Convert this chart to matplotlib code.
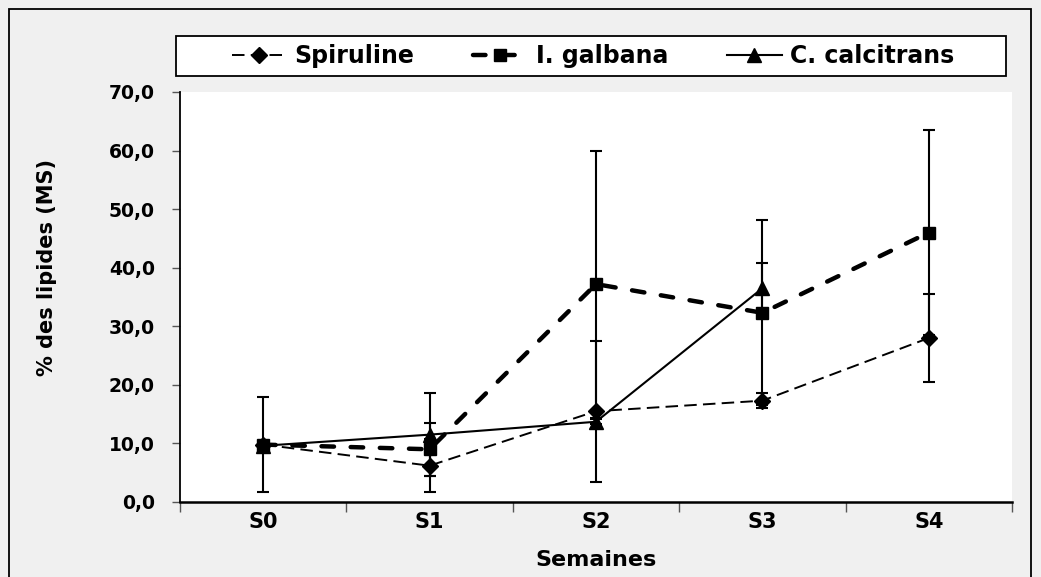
import numpy as np
import matplotlib
matplotlib.use("Agg")
import matplotlib.pyplot as plt
from matplotlib.patches import Rectangle
from matplotlib.lines import Line2D
from matplotlib.ticker import FuncFormatter, FixedLocator

semaines = ["S0", "S1", "S2", "S3", "S4"]

spiruline = [9.8, 6.2, 15.5, 17.3, 28.0]
spiruline_err = [0.4, 4.5, 12.0, 1.3, 7.5]

galbana = [9.8, 9.0, 37.2, 32.3, 46.0]
galbana_err = [8.1, 4.5, 22.8, 15.8, 17.5]

calcitrans = [9.6, 11.5, 13.7, 36.5, np.nan]
calcitrans_err = [0.4, 7.1, 0.4, 4.3, np.nan]

plt.rcParams["lines.scale_dashes"] = False
font = ["DejaVu Sans"]

fig = plt.figure(figsize=(10.41, 5.77), dpi=100, facecolor="#f0f0f0")
ax = fig.add_axes([180 / 1041, 75 / 577, 832 / 1041, 410 / 577])
ax.set_facecolor("white")

x = np.arange(len(semaines))

styles = {
    "Spiruline": dict(color="black", lw=1.4, dashes=(9, 4.5), marker="D", ms=8.5),
    "I. galbana": dict(color="black", lw=3.2, dashes=(9, 12), dash_capstyle="round",
                       marker="s", ms=8.5),
    "C. calcitrans": dict(color="black", lw=1.5, marker="^", ms=10),
}
eb = dict(capsize=4.5, elinewidth=1.5, capthick=1.5, ecolor="black", zorder=3)

ax.errorbar(x, spiruline, yerr=spiruline_err, **styles["Spiruline"], **eb)
ax.errorbar(x, galbana, yerr=galbana_err, **styles["I. galbana"], **eb)
ax.errorbar(x, calcitrans, yerr=calcitrans_err, **styles["C. calcitrans"], **eb)

ax.set_xlim(-0.5, len(semaines) - 0.5)
ax.set_ylim(0, 70)
ax.set_yticks(np.arange(0, 71, 10))
ax.yaxis.set_major_formatter(FuncFormatter(lambda v, p: f"{v:.1f}".replace(".", ",")))

# category labels centred, tick marks on the boundaries
ax.set_xticks(x)
ax.set_xticklabels(semaines, family=font, fontweight="bold", fontsize=15)
ax.tick_params(axis="x", length=0, pad=7)
ax.xaxis.set_minor_locator(FixedLocator(np.arange(-0.5, len(semaines), 1)))
ax.tick_params(axis="x", which="minor", length=7, width=1, color="#555555")
ax.tick_params(axis="y", length=6, width=1, color="#555555", pad=12)
for lab in ax.get_yticklabels():
    lab.set_fontfamily(font)
    lab.set_fontweight("bold")
    lab.set_fontsize(13.5)

for side in ["top", "right"]:
    ax.spines[side].set_visible(False)
ax.spines["left"].set_linewidth(1.3)
ax.spines["bottom"].set_linewidth(1.8)

ax.set_ylabel("% des lipides (MS)", fontsize=15, fontweight="bold", family=font)
ax.yaxis.set_label_coords(-0.148, 0.573)
ax.set_xlabel("Semaines", fontsize=16, fontweight="bold", family=font)
ax.xaxis.set_label_coords(0.5, -0.118)

handles = [Line2D([], [], **styles[k]) for k in styles]
leg = fig.legend(handles, list(styles), loc="center", ncol=3, numpoints=1,
                 bbox_to_anchor=(593 / 1041, 1 - 56 / 577), frameon=False,
                 prop=dict(family=font, weight="bold", size=17),
                 handlelength=2.3, handletextpad=0.35, columnspacing=2.5)

# legend box and outer frame of the chart area
fig.patches.append(Rectangle((176 / 1041, 1 - 76 / 577), 830 / 1041, 40 / 577,
                             transform=fig.transFigure, facecolor="white",
                             edgecolor="black", lw=1.3, zorder=0))
fig.patches.append(Rectangle((9 / 1041, -0.05), 1022 / 1041, 1.05 - 9 / 577,
                             transform=fig.transFigure, fill=False,
                             edgecolor="black", lw=1.3, zorder=0))

fig.savefig("out.png", dpi=100, facecolor=fig.get_facecolor())
